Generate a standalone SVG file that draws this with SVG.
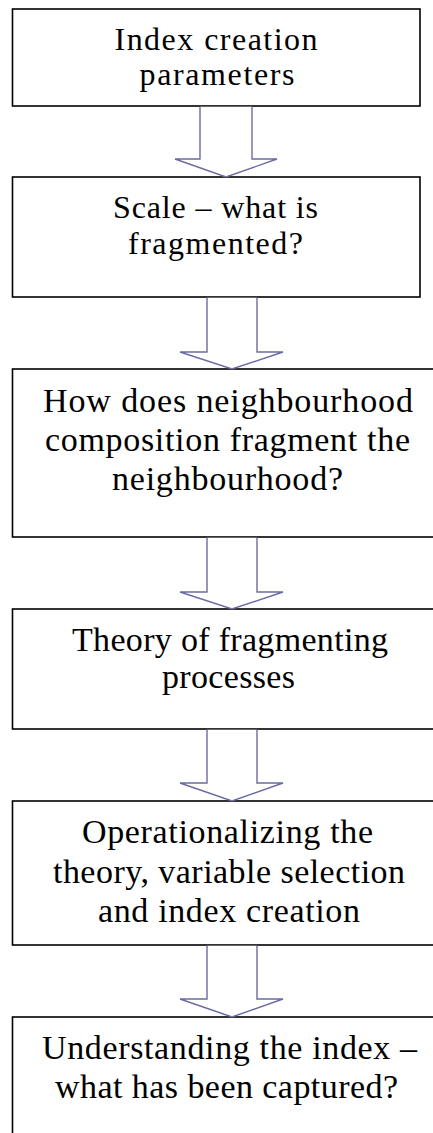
<svg xmlns="http://www.w3.org/2000/svg" width="433" height="1133" viewBox="0 0 433 1133">
<style>
.box{fill:#fff;stroke:#000;stroke-width:1.6}
.lbl{font-family:"Liberation Serif","Times New Roman",serif;font-size:34px;fill:#000;text-anchor:middle}
.sm{font-size:32px}
.arr{fill:#fff;stroke:#6b6ba3;stroke-width:1.4;stroke-linejoin:miter}
</style>
<rect width="433" height="1133" fill="#fff"/>
<g id="n1"><rect class="box" x="12.5" y="9" width="407.5" height="97"/>
<text class="lbl sm" x="216" y="49.5" textLength="203" lengthAdjust="spacing">Index creation</text>
<text class="lbl sm" x="217" y="85" textLength="155" lengthAdjust="spacing">parameters</text></g>
<g id="n2"><rect class="box" x="12.5" y="177" width="407.5" height="120"/>
<text class="lbl sm" x="215.5" y="218" textLength="205" lengthAdjust="spacing">Scale – what is</text>
<text class="lbl sm" x="215.5" y="253.5" textLength="175" lengthAdjust="spacing">fragmented?</text></g>
<g id="n3"><rect class="box" x="12.5" y="369" width="434" height="168"/>
<text class="lbl" x="228" y="411.5" textLength="370" lengthAdjust="spacing">How does neighbourhood</text>
<text class="lbl" x="227.5" y="451" textLength="365" lengthAdjust="spacing">composition fragment the</text>
<text class="lbl" x="227.5" y="490" textLength="231" lengthAdjust="spacing">neighbourhood?</text></g>
<g id="n4"><rect class="box" x="12.5" y="609" width="434" height="120"/>
<text class="lbl" x="230" y="651" textLength="316" lengthAdjust="spacing">Theory of fragmenting</text>
<text class="lbl" x="228.5" y="688" textLength="133" lengthAdjust="spacing">processes</text></g>
<g id="n5"><rect class="box" x="12.5" y="801" width="434" height="144"/>
<text class="lbl" x="227.5" y="843" textLength="291" lengthAdjust="spacing">Operationalizing the</text>
<text class="lbl" x="229" y="883" textLength="352" lengthAdjust="spacing">theory, variable selection</text>
<text class="lbl" x="229" y="922" textLength="262" lengthAdjust="spacing">and index creation</text></g>
<g id="n6"><rect class="box" x="12.5" y="1017" width="434" height="140"/>
<text class="lbl" x="229.5" y="1059" textLength="375" lengthAdjust="spacing">Understanding the index –</text>
<text class="lbl" x="226.5" y="1098" textLength="343" lengthAdjust="spacing">what has been captured?</text></g>
<g id="connectors">
<path class="arr" d="M200,106.8 V159 H175 L226,177 L277,159 H252 V106.8"/>
<path class="arr" d="M207,297.8 V352 H180 L232,369 L283,352 H257 V297.8"/>
<path class="arr" d="M207,537.8 V592 H180 L232,609 L283,592 H257 V537.8"/>
<path class="arr" d="M207,729.8 V783 H180 L232,801 L283,783 H257 V729.8"/>
<path class="arr" d="M207,945.8 V999 H180 L232,1017 L283,999 H257 V945.8"/>
</g>
</svg>
